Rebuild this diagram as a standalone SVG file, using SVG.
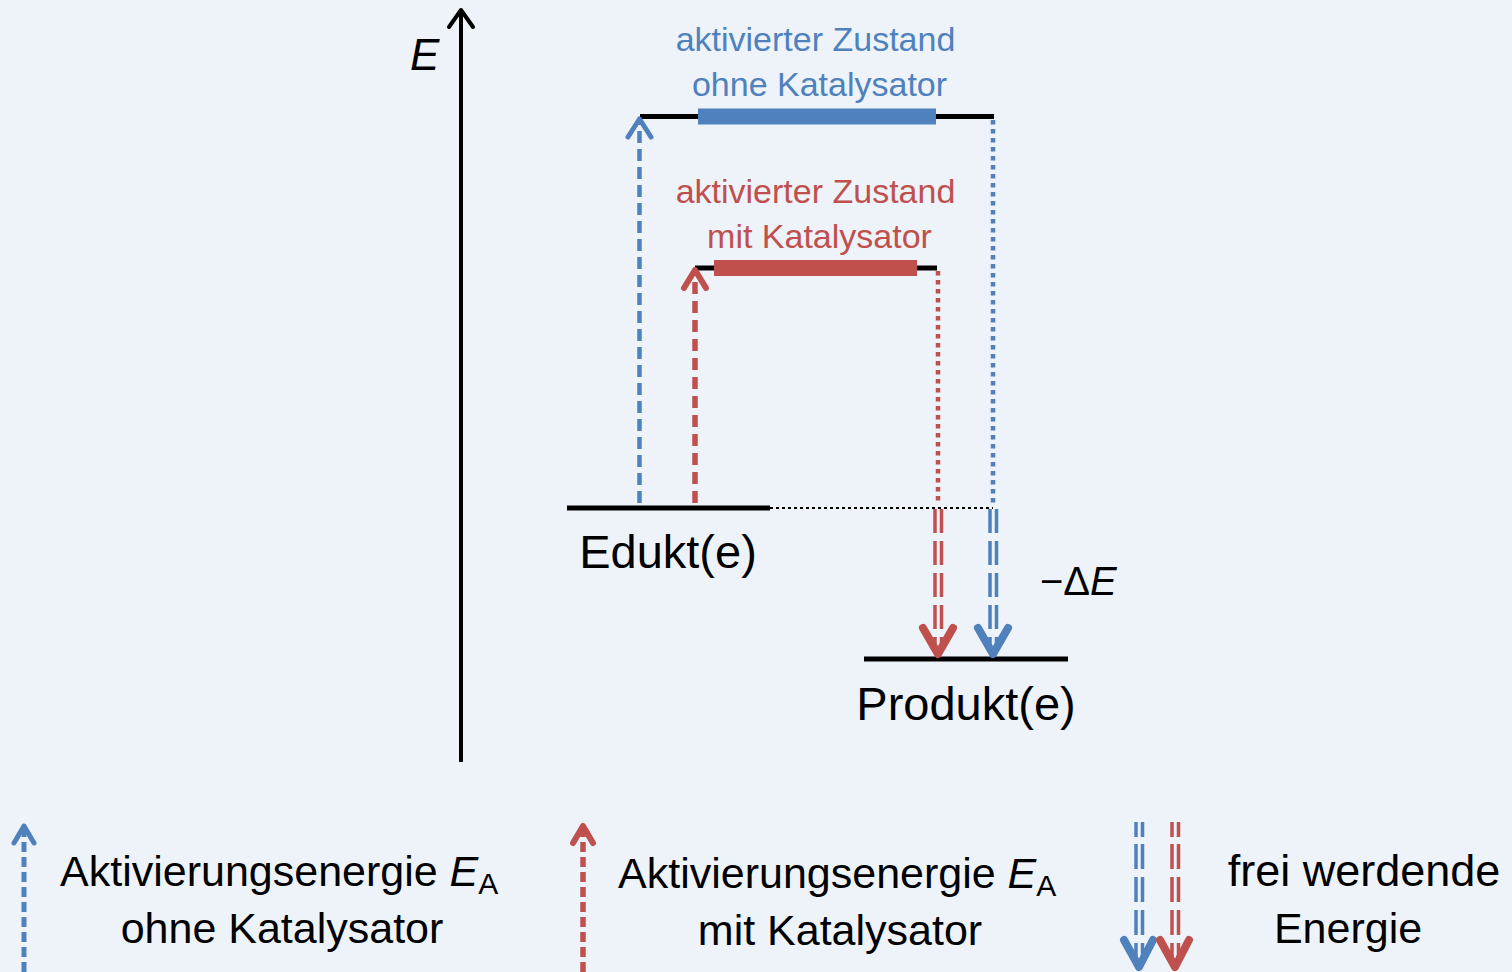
<svg xmlns="http://www.w3.org/2000/svg" width="1512" height="972" viewBox="0 0 1512 972">
<style>
text{font-family:"Liberation Sans",Arial,sans-serif;}
.lbl{font-size:34px;text-anchor:middle;}
.big{font-size:47px;text-anchor:middle;fill:#000;}
.leg{font-size:43px;fill:#000;}
.blue{fill:#4F81BD;}
.red{fill:#C0504D;}
.lvl{stroke:#000;stroke-width:5;fill:none;}
.head{fill:none;stroke-linecap:round;stroke-linejoin:round;}
.bs{stroke:#4F81BD;}
.rs{stroke:#C0504D;}
</style>
<rect x="0" y="0" width="1512" height="972" fill="#EEF3F9"/>

<g id="axis">
<line x1="461" y1="12" x2="461" y2="762" stroke="#000" stroke-width="4"/>
<polyline class="head" points="449,27 461,10 473,27" stroke="#000" stroke-width="4"/>
<text x="410" y="70" font-size="44" font-style="italic" fill="#000">E</text>
</g>

<g id="ts-ohne">
<line class="lvl" x1="640" y1="116.5" x2="994" y2="116.5"/>
<rect x="698" y="108.5" width="238" height="16" fill="#4F81BD"/>
<text class="lbl blue" x="815.5" y="51">aktivierter Zustand</text>
<text class="lbl blue" x="819.5" y="96">ohne Katalysator</text>
</g>

<g id="ts-mit">
<line class="lvl" x1="695" y1="268" x2="937" y2="268"/>
<rect x="714" y="260" width="203" height="16" fill="#C0504D"/>
<text class="lbl red" x="815.5" y="203">aktivierter Zustand</text>
<text class="lbl red" x="819.5" y="248">mit Katalysator</text>
</g>

<g id="edukt">
<line class="lvl" x1="567" y1="508" x2="770" y2="508"/>
<text class="big" x="668" y="568">Edukt(e)</text>
</g>

<g id="produkt">
<line class="lvl" x1="864" y1="659" x2="1068" y2="659"/>
<text class="big" x="966" y="720">Produkt(e)</text>
</g>

<g id="deltaE">
<text x="1040" y="595" font-size="40" fill="#000">−Δ<tspan font-style="italic">E</tspan></text>
</g>

<g id="connectors">
<line x1="770" y1="508" x2="993" y2="508" stroke="#000" stroke-width="2" stroke-dasharray="3 3"/>
<line x1="639.5" y1="503" x2="639.5" y2="124" stroke="#4F81BD" stroke-width="4.5" stroke-dasharray="12 6"/>
<polyline class="head bs" points="628,137 639.5,119 651,137" stroke-width="5"/>
<line x1="695" y1="503" x2="695" y2="276" stroke="#C0504D" stroke-width="5.5" stroke-dasharray="12 7"/>
<polyline class="head rs" points="684,288 695,270 706,288" stroke-width="6"/>
<line x1="993" y1="120" x2="993" y2="505" stroke="#4F81BD" stroke-width="4.5" stroke-dasharray="4.5 4.5"/>
<line x1="990" y1="509" x2="990" y2="648" stroke="#4F81BD" stroke-width="3.5" stroke-dasharray="24 8"/>
<line x1="996.5" y1="509" x2="996.5" y2="648" stroke="#4F81BD" stroke-width="3.5" stroke-dasharray="24 8"/>
<polyline class="head bs" points="978,628 993,654 1008,628" stroke-width="8"/>
<line x1="938" y1="271" x2="938" y2="505" stroke="#C0504D" stroke-width="4.5" stroke-dasharray="4.5 4.5"/>
<line x1="935" y1="509" x2="935" y2="648" stroke="#C0504D" stroke-width="3.5" stroke-dasharray="24 8"/>
<line x1="941.5" y1="509" x2="941.5" y2="648" stroke="#C0504D" stroke-width="3.5" stroke-dasharray="24 8"/>
<polyline class="head rs" points="923,628 938,654 953,628" stroke-width="8"/>
</g>

<g id="legend-ohne">
<line x1="24" y1="972" x2="24" y2="830" stroke="#4F81BD" stroke-width="5" stroke-dasharray="10 5"/>
<polyline class="head bs" points="14,843 24,826 34,843" stroke-width="5"/>
<text class="leg" x="60" y="886">Aktivierungsenergie <tspan font-style="italic">E</tspan><tspan style="font-size:30px" dy="8">A</tspan></text>
<text class="leg" x="282" y="943" text-anchor="middle">ohne Katalysator</text>
</g>

<g id="legend-mit">
<line x1="583" y1="972" x2="583" y2="830" stroke="#C0504D" stroke-width="5.5" stroke-dasharray="10 5"/>
<polyline class="head rs" points="573,843 583,826 593,843" stroke-width="6"/>
<text class="leg" x="618" y="888">Aktivierungsenergie <tspan font-style="italic">E</tspan><tspan style="font-size:30px" dy="8">A</tspan></text>
<text class="leg" x="840" y="945" text-anchor="middle">mit Katalysator</text>
</g>

<g id="legend-frei">
<line x1="1136" y1="822" x2="1136" y2="958" stroke="#4F81BD" stroke-width="3.5" stroke-dasharray="15 7 25 8 25 8 25 8 25 8"/>
<line x1="1142.5" y1="822" x2="1142.5" y2="958" stroke="#4F81BD" stroke-width="3.5" stroke-dasharray="15 7 25 8 25 8 25 8 25 8"/>
<polyline class="head bs" points="1124,940 1139,967 1153,940" stroke-width="8"/>
<line x1="1172" y1="822" x2="1172" y2="958" stroke="#C0504D" stroke-width="3.5" stroke-dasharray="15 7 25 8 25 8 25 8 25 8"/>
<line x1="1178.5" y1="822" x2="1178.5" y2="958" stroke="#C0504D" stroke-width="3.5" stroke-dasharray="15 7 25 8 25 8 25 8 25 8"/>
<polyline class="head rs" points="1160,940 1175,967 1189,940" stroke-width="8"/>
<text class="leg" x="1364" y="886" text-anchor="middle" style="font-size:45px">frei werdende</text>
<text class="leg" x="1348" y="943" text-anchor="middle">Energie</text>
</g>
</svg>
